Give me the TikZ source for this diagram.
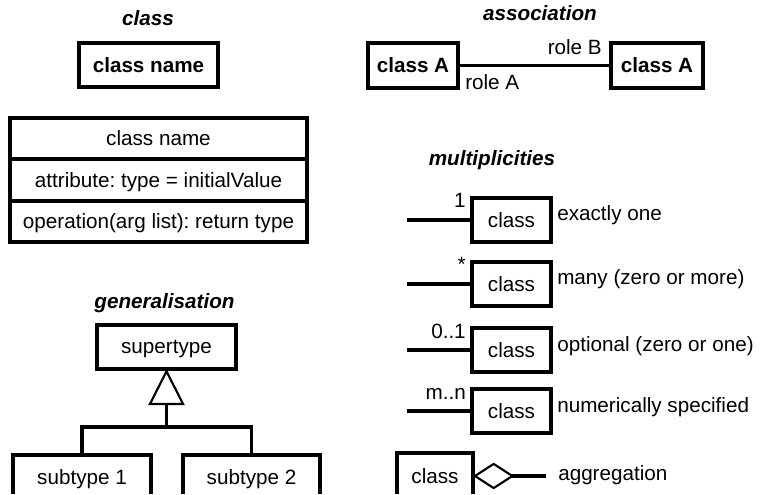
\documentclass[tikz,border=0pt]{standalone}
\usepackage{fontspec}
\setmainfont{Liberation Sans}
\usetikzlibrary{arrows.meta}
\frenchspacing
\newcommand{\boite}[5]{\node[box,minimum width=#3*0.75pt,minimum height=#4*0.75pt] (#1) at (#2) {#5}}
\newcommand{\titre}[3]{\node[titlefont,anchor=base] (#1) at (#2) {#3}}
\newcommand{\mult}[4]{\boite{#1}{511.5,#2}{79}{44}{class};
	\coordinate (#1l) at (407,#2);
	\draw[ligne] (#1l) -- (#1);
	\node[anchor=base east,inner sep=0pt] (#1m) at (466,#2-12) {#3};
	\node[anchor=base west,inner sep=0pt] (#1t) at (557,#2+1) {#4}}

\begin{document}
\begin{tikzpicture}[x=0.75pt,y=-0.75pt,font=\fontsize{15.5}{18}\selectfont,
	ligne/.style={line width=2.5pt},
	box/.style={draw,ligne,inner sep=0pt,outer sep=0pt,text depth=0pt},
	titlefont/.style={font=\fontsize{15.5}{18}\selectfont\bfseries\itshape}]
\useasboundingbox (0,0) rectangle (760,495);
%Class
	\titre{tclass}{148,26}{class};
	\boite{cname}{148.5,65}{139}{44}{\textbf{class name}};
	\boite{cpart1}{158.5,138.5}{297}{41}{class name};
	\boite{cpart2}{158.5,180}{297}{42}{attribute: type = initialValue};
	\boite{cpart3}{158.5,221.5}{297}{41}{operation(arg list): return type};
%Association
	\titre{tassoc}{540,21}{association};
	\boite{classa}{413,65.5}{90}{45}{\textbf{class A}};
	\boite{classb}{657,65.5}{92}{45}{\textbf{class A}};
	\draw[ligne] (classa) -- (classb);
	\node[anchor=base east,inner sep=0pt] (roleb) at (602,55) {role B};
	\node[anchor=base west,inner sep=0pt] (rolea) at (465,90) {role A};
%Multiplicities
	\titre{tmult}{492,166}{multiplicities};
	\mult{one}{220}{1}{exactly one};
	\mult{many}{284}{*}{many (zero or more)};
	\mult{opt}{350}{0..1}{optional (zero or one)};
	\mult{num}{411}{m..n}{numerically specified};
%Generalisation
	\titre{tgen}{164.5,308}{generalisation};
	\boite{super}{166.5,347}{139}{44}{supertype};
	\begin{scope}
	\clip (0,0) rectangle (760,493);
	\boite{sub1}{82,477}{138}{44}{subtype 1};
	\boite{sub2}{251.5,477}{137}{44}{subtype 2};
	\coordinate (join) at (166.5,427);
	\draw[ligne] (sub1.north) |- (join) -| (sub2.north);
	\draw[ligne,-{Triangle[open,length=27pt,width=27pt,line width=1.6pt]}] (join) -- (super.south);
%Aggregation
	\boite{aggclass}{435,476}{76}{46}{class};
	\coordinate (aggend) at (546,476);
	\draw[ligne,{Diamond[open,length=31pt,width=20pt,line width=1.6pt]}-] (aggclass.east) -- (aggend);
	\node[anchor=base west,inner sep=0pt] (aggtext) at (558,480) {aggregation};
	\end{scope}
\end{tikzpicture}
\end{document}
